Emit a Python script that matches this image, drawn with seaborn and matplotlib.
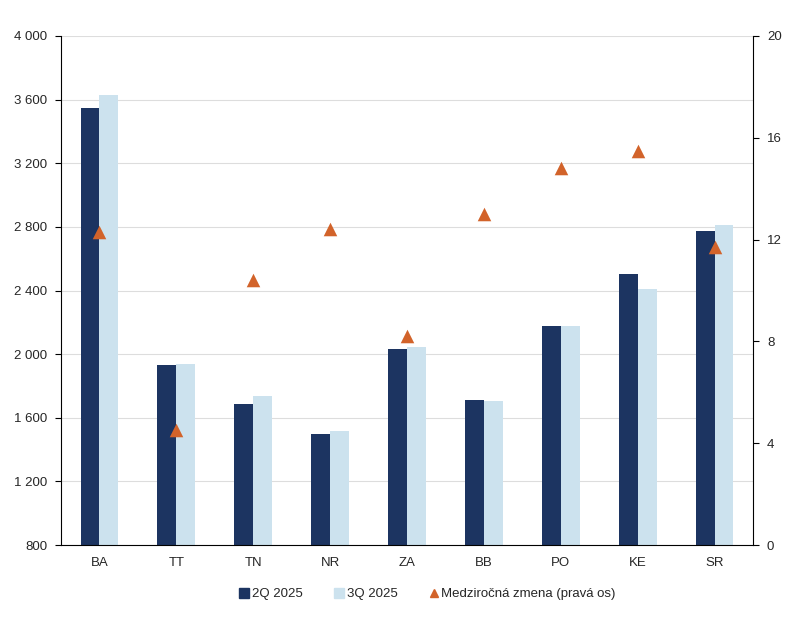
import matplotlib
matplotlib.use("Agg")
import matplotlib.pyplot as plt
import seaborn as sns
import pandas as pd
from matplotlib.lines import Line2D
from matplotlib.ticker import FixedLocator, FuncFormatter

regions = ["BA", "TT", "TN", "NR", "ZA", "BB", "PO", "KE", "SR"]
q2_2025 = [3547, 1931, 1686, 1497, 2031, 1711, 2176, 2503, 2774]
q3_2025 = [3629, 1937, 1736, 1516, 2044, 1704, 2176, 2409, 2811]
yoy_change = [12.3, 4.5, 10.4, 12.4, 8.2, 13.0, 14.8, 15.5, 11.7]
series_names = ["2Q 2025", "3Q 2025"]
line_name = "Medziročná zmena (pravá os)"

sns.set_theme(style="white")
plt.rcParams['font.family'] = ['Liberation Sans', 'DejaVu Sans']

df = pd.DataFrame({
    "region": regions * 2,
    "value": q2_2025 + q3_2025,
    "series": [series_names[0]] * len(regions) + [series_names[1]] * len(regions),
})

c_dark = "#1c3461"
c_light = "#cce2ee"
c_orange = "#d2632a"

fig = plt.figure(figsize=(8.02, 6.19), dpi=100)
ax = fig.add_axes([61/802, 74/619, (753-61)/802, (545-36)/619])

sns.barplot(data=df, x="region", y="value", hue="series", order=regions,
            hue_order=series_names, palette=[c_dark, c_light], width=0.49,
            saturation=1, ax=ax, legend=False, linewidth=0, edgecolor="none")

ax.set_ylim(800, 4000)
ax.set_xlim(-0.5, len(regions) - 0.5)
ax.yaxis.set_major_locator(FixedLocator(list(range(800, 4001, 400))))
ax.yaxis.set_major_formatter(FuncFormatter(lambda v, p: f"{int(v):,}".replace(",", " ")))
ax.grid(axis="y", color="#dddddd", linewidth=0.8)
ax.set_axisbelow(True)
ax.set_xlabel("")
ax.set_ylabel("")
for s in ["top", "right"]:
    ax.spines[s].set_visible(False)
ax.spines["left"].set_color("black")
ax.spines["bottom"].set_color("black")
ax.spines["left"].set_linewidth(0.8)
ax.spines["bottom"].set_linewidth(0.8)
ax.tick_params(axis="y", left=True, length=4, width=0.8, color="black", labelsize=9.5, pad=6)
ax.tick_params(axis="x", bottom=False, labelsize=9.5, pad=3)

ax2 = ax.twinx()
ax2.scatter(range(len(regions)), yoy_change, marker="^", s=95, color=c_orange, zorder=5, linewidths=0)
ax2.set_ylim(0, 20)
ax2.yaxis.set_major_locator(FixedLocator([0, 4, 8, 12, 16, 20]))
for s in ["top", "left", "bottom"]:
    ax2.spines[s].set_visible(False)
ax2.spines["right"].set_color("black")
ax2.spines["right"].set_linewidth(0.8)
ax2.tick_params(axis="y", right=True, length=4, width=0.8, color="black", labelsize=9.5, pad=6)
ax2.grid(False)

handles = [
    Line2D([], [], marker="s", linestyle="none", color=c_dark, markersize=6.5),
    Line2D([], [], marker="s", linestyle="none", color=c_light, markersize=6.5),
    Line2D([], [], marker="^", linestyle="none", color=c_orange, markersize=5.5),
]
fig.legend(handles, series_names + [line_name], loc="center", bbox_to_anchor=(0.533, 1 - 594/619),
           ncol=3, frameon=False, fontsize=9.5, handletextpad=0.15, columnspacing=2.4, handlelength=0.8)

fig.savefig("out.png", dpi=100)
